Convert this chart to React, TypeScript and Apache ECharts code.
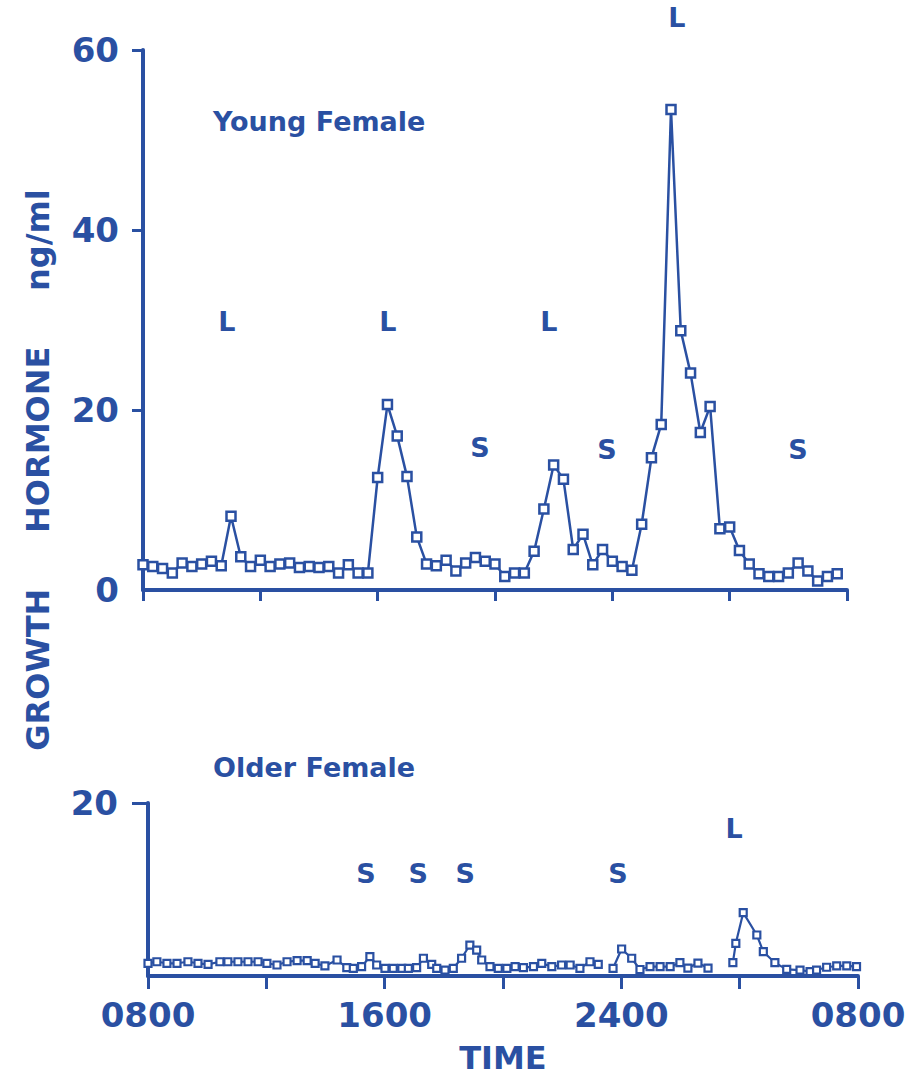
import React, { useEffect, useRef } from "react";
import * as echarts from "echarts";

const BLUE = "#2a50a2";
const FONT = "DejaVu Sans";

// Young female: samples every 20 minutes from 0800 (hours after 0800)
const topValues = [
  2.8, 2.6, 2.4, 1.9, 3.0, 2.6, 2.9, 3.2, 2.7, 8.2,
  3.7, 2.6, 3.3, 2.6, 2.9, 3.0, 2.5, 2.6, 2.5, 2.6,
  1.9, 2.8, 1.9, 1.9, 12.5, 20.6, 17.1, 12.6, 5.9, 2.9,
  2.7, 3.3, 2.1, 3.0, 3.6, 3.2, 2.9, 1.5, 1.9, 1.9,
  4.3, 9.0, 13.9, 12.3, 4.5, 6.2, 2.8, 4.5, 3.2, 2.6,
  2.2, 7.3, 14.7, 18.4, 53.4, 28.8, 24.1, 17.5, 20.4, 6.8,
  7.0, 4.4, 2.9, 1.8, 1.5, 1.5, 1.9, 3.0, 2.1, 1.0,
  1.5, 1.8,
];
const SAMPLE_STEP_HOURS = 20 / 60;

// Older female: hours after 0800 and values (null = break in the trace)
const bottomTimes = [
  0, 0.3, 0.64, 0.98, 1.35, 1.69, 2.03, 2.43, 2.7, 3.04,
  3.38, 3.72, 4.02, 4.36, 4.7, 5.04, 5.38, 5.65, 5.98, 6.39,
  6.72, 6.94, 7.22, 7.5, 7.73, 8.01, 8.29, 8.58, 8.8, 9.08,
  9.31, 9.59, 9.76, 10.04, 10.32, 10.6, 10.88, 11.11, 11.28, 11.56,
  11.84, 12.13, 12.41, 12.69, 13.03, 13.31, 13.65, 13.98, 14.27, 14.6,
  14.94, 15.22, 15.47, 15.72, 16.01, 16.35, 16.63, 16.97, 17.31, 17.65,
  17.98, 18.25, 18.59, 18.93, 19.35, 19.77, 19.87, 20.12, 20.58, 20.8,
  21.19, 21.59, 22.04, 22.38, 22.6, 22.94, 23.28, 23.62, 23.95,
];
const bottomValues = [
  1.47, 1.65, 1.47, 1.47, 1.65, 1.47, 1.35, 1.65, 1.65, 1.65,
  1.65, 1.65, 1.47, 1.27, 1.65, 1.77, 1.77, 1.47, 1.16, 1.85,
  0.96, 0.89, 1.08, 2.23, 1.27, 0.89, 0.89, 0.89, 0.89, 0.96,
  2.05, 1.35, 0.89, 0.69, 0.89, 2.05, 3.58, 3.0, 1.85, 1.08,
  0.89, 0.89, 1.08, 0.96, 1.08, 1.47, 1.08, 1.27, 1.27, 0.89,
  1.65, 1.35, null, 0.89, 3.12, 2.05, 0.75, 1.08, 1.08, 1.08,
  1.54, 0.92, 1.5, 0.92, null, 1.54, 3.78, 7.32, 4.74, 2.81,
  1.54, 0.77, 0.69, 0.5, 0.69, 1.01, 1.16, 1.16, 1.08,
];

// Time axis
const xTickHours = [0, 8, 16, 24];
const xTickLabels = ["0800", "1600", "2400", "0800"];

// Sleep stage annotations [hour, level, label]
const topMarks: [number, number, string][] = [
  [2.86, 29.8, "L"],
  [8.35, 29.8, "L"],
  [13.84, 29.8, "L"],
  [18.2, 63.6, "L"],
  [11.49, 15.8, "S"],
  [15.82, 15.6, "S"],
  [22.33, 15.6, "S"],
];
const bottomMarks: [number, number, string][] = [
  [7.37, 11.9, "S"],
  [9.13, 11.9, "S"],
  [10.72, 11.9, "S"],
  [15.89, 11.9, "S"],
  [19.81, 17.1, "L"],
];

export default function App() {
  const ref = useRef<HTMLDivElement>(null);

  useEffect(() => {
    if (!ref.current) return;
    const chart = echarts.init(ref.current, undefined, { renderer: "svg" });

    const axisLine = { show: true, lineStyle: { color: BLUE, width: 4 } };
    const axisTick = { show: true, length: 11, lineStyle: { color: BLUE, width: 3 } };
    const labelBase = { color: BLUE, fontFamily: FONT, fontWeight: "bold" as const, fontSize: 34 };

    const markLabel = {
      show: true,
      position: "inside" as const,
      formatter: (p: any) => p.data[2],
      color: BLUE,
      opacity: 1,
      textBorderWidth: 0,
      textBorderColor: "transparent",
      fontFamily: FONT,
      fontWeight: "bold" as const,
      fontSize: 27,
    };

    chart.setOption({
      animation: false,
      backgroundColor: "#ffffff",
      title: [
        {
          text: "Young Female",
          left: 213,
          top: 108,
          padding: 0,
          textStyle: { color: BLUE, fontFamily: FONT, fontWeight: "bold", fontSize: 27 },
        },
        {
          text: "Older Female",
          left: 213,
          top: 754,
          padding: 0,
          textStyle: { color: BLUE, fontFamily: FONT, fontWeight: "bold", fontSize: 27 },
        },
      ],
      grid: [
        { left: 143, top: 50, width: 704, height: 540 },
        { left: 148, top: 803, width: 710, height: 173 },
      ],
      xAxis: [
        {
          type: "value",
          gridIndex: 0,
          min: 0,
          max: 24,
          interval: 4,
          axisLine,
          axisTick,
          axisLabel: { show: false },
          splitLine: { show: false },
        },
        {
          type: "value",
          gridIndex: 1,
          min: 0,
          max: 24,
          interval: 4,
          axisLine,
          axisTick: { ...axisTick, length: 13 },
          axisLabel: {
            ...labelBase,
            margin: 22,
            showMinLabel: true,
            showMaxLabel: true,
            formatter: (v: number) => {
              const i = xTickHours.indexOf(v);
              return i >= 0 ? xTickLabels[i] : "";
            },
          },
          splitLine: { show: false },
          name: "TIME",
          nameLocation: "middle",
          nameGap: 66,
          nameTextStyle: { color: BLUE, fontFamily: FONT, fontWeight: "bold", fontSize: 32, verticalAlign: "top" },
        },
      ],
      yAxis: [
        {
          type: "value",
          gridIndex: 0,
          min: 0,
          max: 60,
          interval: 20,
          axisLine,
          axisTick: { ...axisTick, customValues: [20, 40, 60] },
          axisLabel: { ...labelBase, margin: 24 },
          splitLine: { show: false },
        },
        {
          type: "value",
          gridIndex: 1,
          min: 0,
          max: 20,
          interval: 20,
          axisLine,
          axisTick: { ...axisTick, length: 16, customValues: [20] },
          axisLabel: {
            ...labelBase,
            margin: 30,
            formatter: (v: number) => (v === 20 ? "20" : ""),
          },
          splitLine: { show: false },
        },
      ],
      graphic: [
        {
          type: "text",
          x: 38,
          y: 470,
          rotation: Math.PI / 2,
          style: {
            text: "GROWTH\u00a0\u00a0\u00a0\u00a0\u00a0HORMONE\u00a0\u00a0\u00a0\u00a0\u00a0ng/ml",
            fill: BLUE,
            fontFamily: FONT,
            fontWeight: "bold",
            fontSize: 32,
            align: "center",
            verticalAlign: "middle",
          },
        },
      ],
      series: [
        {
          type: "line",
          xAxisIndex: 0,
          yAxisIndex: 0,
          data: topValues.map((v, i) => [i * SAMPLE_STEP_HOURS, v]),
          symbol: "rect",
          symbolSize: 9,
          showAllSymbol: true,
          itemStyle: { color: "#ffffff", borderColor: BLUE, borderWidth: 2.5 },
          lineStyle: { color: BLUE, width: 2.5 },
          z: 3,
        },
        {
          type: "line",
          xAxisIndex: 1,
          yAxisIndex: 1,
          data: bottomTimes.map((t, i) => [t, bottomValues[i]]),
          connectNulls: false,
          symbol: "rect",
          symbolSize: 7,
          showAllSymbol: true,
          itemStyle: { color: "#ffffff", borderColor: BLUE, borderWidth: 2.2 },
          lineStyle: { color: BLUE, width: 2.2 },
          z: 3,
        },
        {
          type: "scatter",
          xAxisIndex: 0,
          yAxisIndex: 0,
          data: topMarks,
          symbolSize: 1,
          itemStyle: { color: BLUE, opacity: 0 },
          label: markLabel,
          clip: false,
          silent: true,
        },
        {
          type: "scatter",
          xAxisIndex: 1,
          yAxisIndex: 1,
          data: bottomMarks,
          symbolSize: 1,
          itemStyle: { color: BLUE, opacity: 0 },
          label: markLabel,
          clip: false,
          silent: true,
        },
      ],
    });

    return () => chart.dispose();
  }, []);

  return (
    <div
      ref={ref}
      style={{ position: "absolute", left: 0, top: 0, width: 917, height: 1080, background: "#fff" }}
    />
  );
}
